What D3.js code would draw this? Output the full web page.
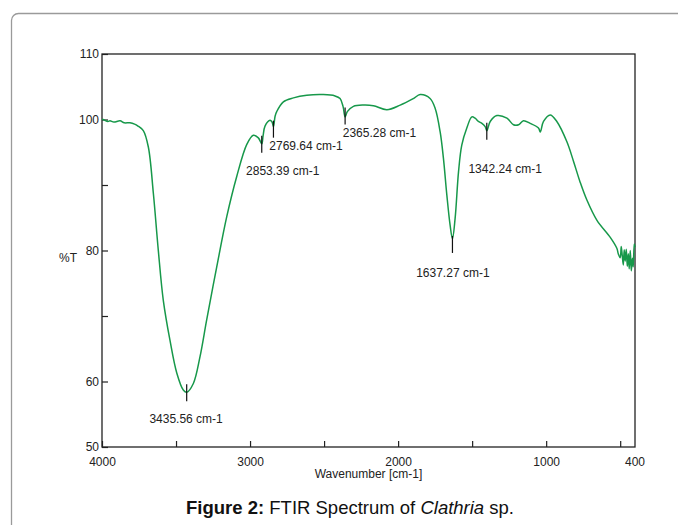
<!DOCTYPE html>
<html>
<head>
<meta charset="utf-8">
<script src="https://cdn.jsdelivr.net/npm/d3@7"></script>
<style>
  body { margin: 0; background: #fff; }
  svg text { font-family: "Liberation Sans", Arial, sans-serif; }
</style>
</head>
<body>
<div id="chart"></div>
<script>
// spectrum (wavenumber cm-1, %T)
const wavenumbers = [4000, 3993, 3960, 3946, 3920, 3878, 3850, 3811, 3780, 3757, 3721, 3687, 3653, 3620, 3586, 3541, 3495, 3451, 3428,
  3383, 3338, 3293, 3225, 3157, 3090, 3022, 2978, 2944, 2921, 2912, 2899, 2865, 2851, 2842, 2831, 2820,
  2775, 2707, 2617, 2505, 2426, 2392, 2372, 2358, 2343, 2302, 2234, 2167, 2076, 1986, 1897, 1851, 1784,
  1750, 1716, 1694, 1671, 1649, 1633, 1615, 1592, 1570, 1536, 1502, 1480, 1457, 1434, 1412, 1401, 1378,
  1333, 1265, 1221, 1186, 1153, 1108, 1052, 1040, 1018, 973, 928, 860, 815, 770, 725, 657, 567, 522,
  513, 500, 493, 486, 479, 473, 466, 459, 452, 445, 439, 432, 425, 418, 412, 405, 400];
const transmittance = [100.0, 100.0, 99.7, 99.8, 99.6, 99.8, 99.5, 99.5, 99.3, 99.0, 98.3, 95.8, 88.7, 80.1, 72.4, 66.3, 61.3, 58.7, 58.35,
  59.7, 63.8, 69.4, 77.5, 85.2, 91.3, 96.2, 97.6, 97.2, 96.3, 97.5, 99.0, 99.9, 99.6, 98.9, 100.5, 101.2,
  102.7, 103.3, 103.7, 103.8, 103.6, 103.2, 102.0, 100.4, 101.2, 102.0, 102.2, 102.1, 101.5, 102.2, 103.2, 103.8, 103.2,
  101.7, 98.1, 94.1, 88.5, 83.9, 81.8, 84.9, 92.0, 96.1, 98.7, 100.4, 100.2, 99.7, 99.4, 98.9, 98.3, 99.7,
  100.6, 100.2, 99.2, 99.2, 99.8, 99.4, 98.7, 98.1, 99.7, 100.7, 99.7, 96.6, 93.6, 90.4, 87.7, 84.6, 82.0, 80.3,
  79.5, 78.9, 80.6, 79.2, 77.8, 80.1, 78.4, 80.2, 77.6, 79.5, 77.2, 80.0, 76.9, 78.8, 77.5, 81.0, 80.5];

// peak annotations: where the marker sits, its label, and the label anchor (data units)
const peakWn = [3428, 2921, 2842, 2358, 1633, 1401];
const peakT = [58.35, 96.3, 98.6, 100.6, 81.0, 98.3];
const peakLabels = ["3435.56 cm-1", "2853.39 cm-1", "2769.64 cm-1", "2365.28 cm-1", "1637.27 cm-1", "1342.24 cm-1"];
const labelWn = [3680, 3027, 2870, 2374, 1878, 1525];
const labelT = [53.6, 91.6, 95.4, 97.3, 76.0, 91.8];

const xTicks = [4000, 3500, 3000, 2500, 2000, 1500, 1000, 500];
const xTickLabels = [4000, 3000, 2000, 1000];
const yTicks = [110, 100, 90, 80, 70, 60, 50];
const yTickLabels = [110, 100, 80, 60, 50];

const W = 678, H = 525;
const plot = { left: 102, right: 635, top: 54, bottom: 447 };

const svg = d3.select("#chart").append("svg")
  .attr("width", W)
  .attr("height", H);

// outer panel border (runs off the page right and bottom)
svg.append("rect")
  .attr("x", 11.5).attr("y", 13.5)
  .attr("width", 720).attr("height", 600)
  .attr("rx", 7)
  .attr("fill", "none")
  .attr("stroke", "#9a9a9a")
  .attr("stroke-width", 1.3);

const x = d3.scaleLinear().domain([4000, 400]).range([plot.left, plot.right]);
const y = d3.scaleLinear().domain([50, 110]).range([plot.bottom, plot.top]);

// axes, ticks pointing inward
const xAxis = d3.axisBottom(x)
  .tickValues(xTicks)
  .tickSizeInner(-6)
  .tickSizeOuter(0)
  .tickPadding(10)
  .tickFormat(d => xTickLabels.includes(d) ? d : "");

const yAxis = d3.axisLeft(y)
  .tickValues(yTicks)
  .tickSizeInner(-6)
  .tickSizeOuter(0)
  .tickPadding(3)
  .tickFormat(d => yTickLabels.includes(d) ? d : "");

const gx = svg.append("g")
  .attr("transform", `translate(0,${plot.bottom})`)
  .call(xAxis);
const gy = svg.append("g")
  .attr("transform", `translate(${plot.left},0)`)
  .call(yAxis);

[gx, gy].forEach(g => {
  g.select(".domain").remove();
  g.selectAll(".tick line").attr("stroke", "#222").attr("stroke-width", 1.2);
  g.selectAll("text").attr("fill", "#222").style("font-size", "12px");
});

// last x label sits at the right frame
svg.append("text")
  .attr("x", x(400)).attr("y", plot.bottom + 10)
  .attr("dy", "0.71em")
  .attr("text-anchor", "middle")
  .attr("fill", "#222")
  .style("font-size", "12px")
  .text("400");

// frame
svg.append("rect")
  .attr("x", plot.left).attr("y", plot.top)
  .attr("width", plot.right - plot.left)
  .attr("height", plot.bottom - plot.top)
  .attr("fill", "none")
  .attr("stroke", "#222")
  .attr("stroke-width", 1.3);

// spectrum
const points = wavenumbers.map((w, i) => [w, transmittance[i]]);
const line = d3.line()
  .x(d => x(d[0]))
  .y(d => y(d[1]))
  .curve(d3.curveCatmullRom.alpha(0.5));

svg.append("path")
  .datum(points)
  .attr("d", line)
  .attr("fill", "none")
  .attr("stroke", "#17984a")
  .attr("stroke-width", 1.5)
  .attr("stroke-linejoin", "round");

// peak markers and labels
peakWn.forEach((w, i) => {
  const py = y(peakT[i]);
  svg.append("line")
    .attr("x1", x(w)).attr("x2", x(w))
    .attr("y1", py - 8).attr("y2", py + 9)
    .attr("stroke", "#111")
    .attr("stroke-width", 1.2);
  svg.append("text")
    .attr("x", x(labelWn[i])).attr("y", y(labelT[i]))
    .attr("fill", "#222")
    .style("font-size", "12px")
    .text(peakLabels[i]);
});

// axis titles
svg.append("text")
  .attr("x", (plot.left + plot.right) / 2).attr("y", 478)
  .attr("text-anchor", "middle")
  .attr("fill", "#222")
  .style("font-size", "12px")
  .text("Wavenumber [cm-1]");

svg.append("text")
  .attr("x", 59).attr("y", 262)
  .attr("fill", "#222")
  .style("font-size", "12px")
  .text("%T");

// caption
const cap = svg.append("text")
  .attr("x", 350).attr("y", 514)
  .attr("text-anchor", "middle")
  .attr("fill", "#111")
  .style("font-size", "18.5px");
cap.append("tspan").attr("font-weight", "bold").text("Figure 2:");
cap.append("tspan").text(" FTIR Spectrum of ");
cap.append("tspan").attr("font-style", "italic").text("Clathria");
cap.append("tspan").text(" sp.");
</script>
</body>
</html>
